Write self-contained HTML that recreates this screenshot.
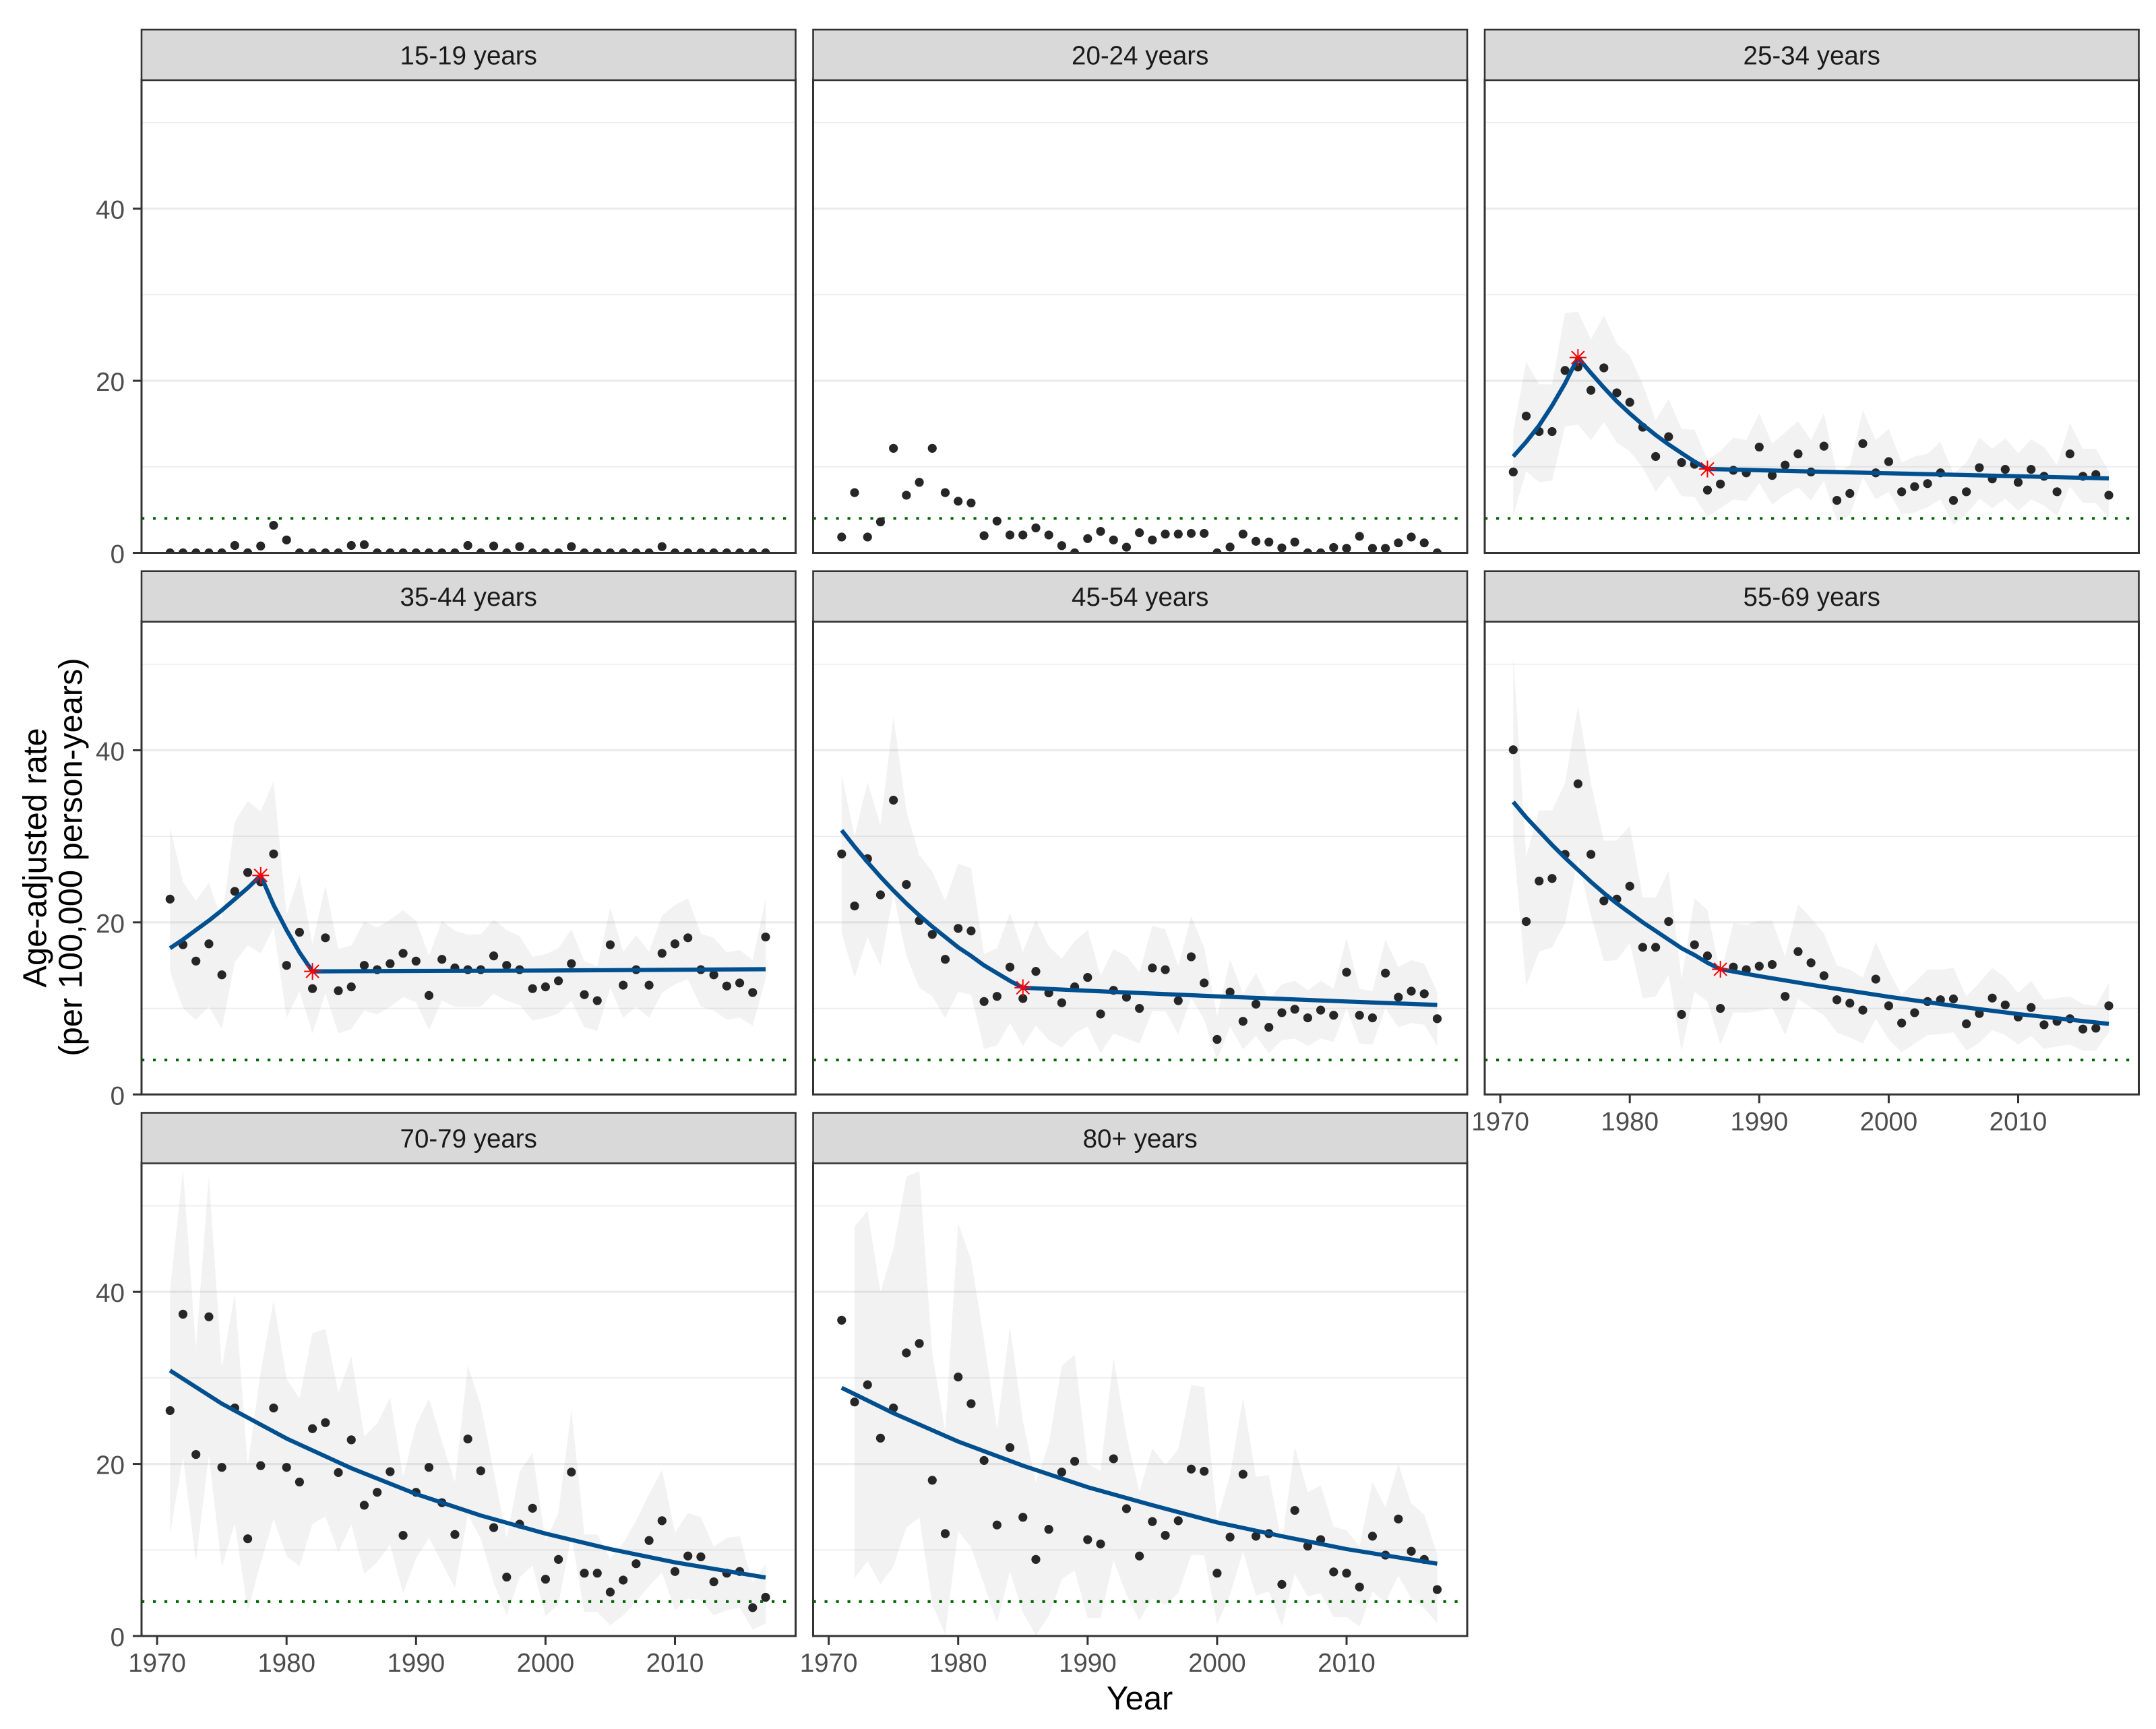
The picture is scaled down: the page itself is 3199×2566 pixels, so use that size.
<!DOCTYPE html>
<html lang="en">
<head>
<meta charset="utf-8">
<title>Age-adjusted rate by age group, 1971-2017</title>
<style>
html,body{margin:0;padding:0;background:#fff;}
svg{display:block;}
text{font-family:"Liberation Sans",Arial,sans-serif;}
.strip-bg{fill:#d9d9d9;stroke:#333;stroke-width:2.6;}
.strip-label{font-size:38.5px;fill:#1a1a1a;text-anchor:middle;}
.axis-title{font-size:48.8px;fill:#000;text-anchor:middle;}
</style>
</head>
<body>
<svg id="chart" xmlns="http://www.w3.org/2000/svg" width="3199" height="2566" viewBox="0 0 3199 2566">
  <rect width="3199" height="2566" fill="#fff"/>
  <defs id="clips"></defs>
  <g id="plots"></g>

  <g>
    <g><rect class="strip-bg" x="210" y="44" width="970.5" height="75"/><text class="strip-label" x="695.2" y="95.5">15-19 years</text></g>
    <g><rect class="strip-bg" x="1206.5" y="44" width="970.5" height="75"/><text class="strip-label" x="1691.7" y="95.5">20-24 years</text></g>
    <g><rect class="strip-bg" x="2203" y="44" width="970.5" height="75"/><text class="strip-label" x="2688.2" y="95.5">25-34 years</text></g>
    <g><rect class="strip-bg" x="210" y="847.7" width="970.5" height="75"/><text class="strip-label" x="695.2" y="899.2">35-44 years</text></g>
    <g><rect class="strip-bg" x="1206.5" y="847.7" width="970.5" height="75"/><text class="strip-label" x="1691.7" y="899.2">45-54 years</text></g>
    <g><rect class="strip-bg" x="2203" y="847.7" width="970.5" height="75"/><text class="strip-label" x="2688.2" y="899.2">55-69 years</text></g>
    <g><rect class="strip-bg" x="210" y="1651.5" width="970.5" height="75"/><text class="strip-label" x="695.2" y="1703">70-79 years</text></g>
    <g><rect class="strip-bg" x="1206.5" y="1651.5" width="970.5" height="75"/><text class="strip-label" x="1691.7" y="1703">80+ years</text></g>
  </g>

  <text class="axis-title" x="1691" y="2537">Year</text>
  <g>
    <text class="axis-title" transform="translate(68.5,1273) rotate(-90)">Age-adjusted rate</text>
    <text class="axis-title" transform="translate(121.5,1272) rotate(-90)">(per 100,000 person-years)</text>
  </g>
</svg>

<script>
// ---- shared axis data ----
const years = [1971,1972,1973,1974,1975,1976,1977,1978,1979,1980,1981,1982,1983,1984,1985,1986,1987,1988,1989,1990,1991,1992,1993,1994,1995,1996,1997,1998,1999,2000,2001,2002,2003,2004,2005,2006,2007,2008,2009,2010,2011,2012,2013,2014,2015,2016,2017];
const xTickLabels = [1970,1980,1990,2000,2010];
const yTickLabels = [0,20,40];
const gridMajor = [20,40];
const gridMinor = [10,30,50];
const referenceRate = [4];

// ---- 15-19 years ----
const rate1519 = [0,0,0,0,0,0.86,0,0.8,3.2,1.5,0,0,0,0,0.86,0.95,0,0,0,0,0,0,0,0.86,0,0.8,0,0.73,0,0,0,0.73,0,0,0,0,0,0,0.73,0,0,0,0,0,0,0,0];

// ---- 20-24 years ----
const rate2024 = [1.84,7.0,1.84,3.6,12.15,6.7,8.2,12.15,7.0,6.0,5.8,2.0,3.7,2.08,2.08,2.9,2.08,0.84,0,1.66,2.5,1.5,0.66,2.34,1.5,2.18,2.18,2.26,2.26,0,0.68,2.18,1.34,1.26,0.58,1.26,0,0,0.63,0.53,1.92,0.53,0.53,1.16,1.84,1.16,0];

// ---- 25-34 years ----
const rate2534 = [9.4,15.9,14.1,14.1,21.2,21.6,18.9,21.5,18.6,17.5,14.6,11.2,13.5,10.5,10.3,7.3,8.0,9.6,9.3,12.3,9.0,10.2,11.5,9.4,12.4,6.1,6.9,12.7,9.3,10.6,7.1,7.7,8.05,9.3,6.1,7.1,9.9,8.6,9.7,8.2,9.7,8.9,7.1,11.5,8.9,9.1,6.7];
const upper2534 = [14.1,22.2,19.6,19.6,27.9,28,24.8,27.6,24.3,22.9,19.6,15.4,17.9,14.4,14.3,10.8,11.8,13.4,13.1,16.2,12.7,14,15.3,13.1,16.2,9.2,10.2,16.6,13.1,14.4,10.5,11.2,11.5,12.9,9.2,10.5,13.4,12.1,13.3,11.6,13.2,12.3,10.2,15.1,12.1,12.1,9.5];
const lower2534 = [4.35,9.5,8.2,8.4,14.7,14.9,13.1,15.2,12.8,11.8,9.9,7.1,9,6.6,6.5,4.2,5.2,6.2,6,8.1,5.6,6.75,7.6,6.1,8.4,3.7,4.35,8.8,6.2,7.1,4.5,4.7,5.3,6.2,3.25,4.5,6.3,5.2,6.3,4.9,6.2,5.5,4.3,7.7,5.8,5.8,4];
const fitYears2534 = [1971,1972,1973,1974,1975,1976,1977,1978,1979,1980,1981,1982,1983,1984,1985,1986,1990,2000,2010,2017];
const fit2534 = [11.2,12.9,14.8,17.1,19.7,22.7,20.9,19.2,17.6,16.2,14.9,13.7,12.6,11.6,10.6,9.75,9.6,9.25,8.9,8.65];
const joinYears2534 = [1976,1986];
const joinValues2534 = [22.7,9.75];

// ---- 35-44 years ----
const rate3544 = [22.7,17.4,15.5,17.5,13.9,23.6,25.8,24.7,27.95,15.0,18.85,12.3,18.2,12.05,12.5,15,14.5,15.2,16.4,15.5,11.5,15.7,14.7,14.5,14.5,16.1,15,14.5,12.3,12.5,13.2,15.2,11.6,10.9,17.4,12.7,14.5,12.7,16.4,17.5,18.2,14.5,13.9,12.6,12.95,11.85,18.3];
const upper3544 = [31,24.7,22.5,24.6,20.2,31.7,34.1,32.9,36.4,20.9,25.5,17.5,24.3,16.9,17.3,20.1,19.4,20.3,21.4,20.2,16.1,20.2,19,18.6,18.6,20.3,19.1,18.4,16,16.3,17,19.2,15.5,14.9,21.7,16.6,18.5,16.6,20.8,22,22.8,18.7,18.2,16.5,16.8,15.6,22.7];
const lower3544 = [14.3,10,8.7,10.2,7.6,15.4,17.3,16.4,19.4,8.9,12,7.1,11.8,7.1,7.6,9.75,9.3,10.2,11.3,10.7,7.5,10.9,10.2,10.2,10.2,11.7,10.9,10.4,8.6,8.9,9.4,10.9,7.8,7.4,12.4,8.9,10.2,8.9,11.8,12.8,13.4,10.2,9.75,8.7,8.9,8,13.4];
const fitYears3544 = [1971,1972,1973,1974,1975,1976,1977,1978,1979,1980,1981,1982,1990,2000,2017];
const fit3544 = [17,18,19.1,20.2,21.4,22.7,24,25.45,22,19.1,16.5,14.3,14.35,14.4,14.55];
const joinYears3544 = [1978,1982];
const joinValues3544 = [25.45,14.3];

// ---- 45-54 years ----
const rate4554 = [27.95,21.9,27.4,23.2,34.2,24.4,20.2,18.6,15.7,19.3,19.0,10.8,11.4,14.8,11.15,14.3,11.8,10.65,12.5,13.6,9.35,12.1,11.3,10,14.7,14.5,10.9,16,12.95,6.4,11.9,8.5,10.5,7.8,9.5,9.9,8.9,9.8,9.2,14.2,9.2,8.9,14.1,11.3,12,11.7,8.8];
const upper4554 = [37.2,30,36.3,31.3,44,32.9,27.8,25.9,22.5,26.8,26.3,16.3,17,21.1,16.6,20.3,17.2,15.8,17.8,19.1,13.8,16.9,16.1,14.2,19.6,19.2,14.9,20.7,17.1,9.1,15.7,11.7,14.1,11,12.8,13.2,12.1,13.2,12.3,18.2,12.3,12,18,14.8,15.6,15.2,11.9];
const lower4554 = [18.8,13.6,18.3,14.9,23.3,16.1,12.4,11.4,8.9,11.9,11.6,5.3,5.7,8.3,5.65,8,6.3,5.45,7.1,7.9,4.8,7.1,6.5,5.9,9.7,9.7,7,11.2,8.7,4,7.9,5.25,6.8,4.8,6.3,6.5,5.65,6.5,6.1,10,5.9,5.8,10,7.8,8.3,8.1,5.65];
const fitYears4554 = [1971,1972,1973,1974,1975,1976,1977,1978,1979,1980,1981,1982,1983,1984,1985,1990,2000,2010,2017];
const fit4554 = [30.7,28.8,27,25.3,23.7,22.2,20.8,19.5,18.3,17.1,16.1,15,14.1,13.2,12.4,12.05,11.4,10.8,10.4];
const joinYears4554 = [1985];
const joinValues4554 = [12.4];

// ---- 55-69 years ----
const rate5569 = [40.06,20.1,24.8,25.1,27.9,36.1,27.9,22.5,22.7,24.2,17.1,17.1,20.1,9.3,17.4,16.1,10,14.8,14.5,14.9,15.1,11.4,16.6,15.3,13.8,11,10.6,9.8,13.4,10.3,8.3,9.5,10.8,11,11.1,8.2,9.4,11.2,10.4,9,10.1,8.1,8.5,8.8,7.6,7.7,10.3];
const upper5569 = [51,27.7,33,33,36.2,45.2,36.1,29.5,29.5,31.2,22.9,22.9,26,13.4,22.8,21.4,13.9,19.9,19.7,20.2,20.2,16,22.1,20.5,18.7,15,14.5,13.6,17.7,14.4,11.6,13,14.5,14.5,14.7,11.4,13,14.7,13.6,11.8,13.2,11,11.2,11.4,10.5,10.3,12.9];
const lower5569 = [29.6,12.6,16.6,17.1,19.9,27.3,20.8,15.5,15.6,17.6,11.2,11.4,13.9,5.1,11.9,10.8,5.8,9.5,9.5,9.7,10.1,6.9,11.1,10.1,9.2,7.2,6.6,5.9,8.8,6.4,4.9,5.9,6.9,7,7.2,5.1,6,7.5,6.9,5.8,6.8,5.3,5.6,5.8,5.1,5.1,7.2];
const fitYears5569 = [1971,1972,1973,1974,1975,1976,1977,1978,1979,1980,1981,1982,1983,1984,1985,1986,1987,1990,1995,2000,2005,2010,2017];
const fit5569 = [34,32.2,30.6,29,27.5,26.1,24.7,23.4,22.2,21.1,20,19,18,17,16.2,15.3,14.55,13.75,12.5,11.35,10.3,9.35,8.2];
const joinYears5569 = [1987];
const joinValues5569 = [14.55];

// ---- 70-79 years ----
const rate7079 = [26.2,37.4,21.1,37.1,19.6,26.5,11.3,19.8,26.5,19.6,17.9,24.1,24.8,19,22.8,15.2,16.7,19.1,11.7,16.7,19.6,15.5,11.8,22.9,19.2,12.6,6.85,13,14.85,6.6,8.9,19.05,7.3,7.3,5.1,6.5,8.4,11.1,13.4,7.5,9.3,9.2,6.3,7.3,7.5,3.3,4.5];
const upper7079 = [40.2,54.2,33.5,53.5,31.2,39.8,19.8,30.7,39,29.9,27.6,35.2,35.7,28.3,32.5,23.2,24.7,27.7,18.5,24.5,27.6,22.6,17.9,31.4,26.8,19.1,11.4,19.1,21.3,11,14.3,26.3,11.8,11.8,9,10.8,13.4,16.5,19.3,12,14.3,13.8,10.4,11.4,11.6,6.2,8.3];
const lower7079 = [11.8,20.8,8.6,21,8,13.1,2.9,8.5,13.6,9.3,8.1,13,13.9,9.7,13,7.2,8.6,10.6,5,9,11.4,8.5,5.6,14.1,11.3,6.2,2.4,6.8,8.2,2.3,3.7,11.7,2.8,2.8,1.25,2.4,4,5.8,7.4,3,4.35,4.2,2.4,3,3.3,0.75,1.45];
const fitYears7079 = [1971,1975,1980,1985,1990,1995,2000,2005,2010,2017];
const fit7079 = [30.85,27,22.95,19.5,16.5,14,11.9,10.1,8.56,6.8];

// ---- 80+ years ----
const rate80 = [36.7,27.2,29.2,23,26.5,32.9,34,18.1,11.9,30.1,27,20.4,12.9,21.9,13.8,8.9,12.4,19.05,20.3,11.2,10.7,20.6,14.8,9.3,13.3,11.7,13.4,19.4,19.15,7.3,11.5,18.8,11.6,11.9,6,14.6,10.45,11.2,7.45,7.3,5.7,11.6,9.4,13.6,9.85,8.9,5.4];
const upper80 = [null,47.6,49.4,40,45,53.4,54,32.8,23.8,48,43.7,34.4,24,36,24.9,17.8,22.4,31.4,32.7,20,19.2,32.3,23.3,16.8,21.8,19.9,21.7,29.2,28.9,13.5,18.7,27.7,18.5,18.7,10.8,22,16.7,17.5,12.7,12.3,10.4,17.9,15,20,15.4,14.1,9.5];
const lower80 = [null,6.75,8.7,6,8.1,12.6,13.8,3.65,0.2,12.2,10.3,6,1.5,7.5,2.7,0.1,2.3,6.6,7.6,2.1,2.1,8.8,4.8,1.8,4.35,3.6,5,9.4,9.4,1.35,4.8,9.8,4.7,5.2,1.2,7.2,4.6,5,2.2,2.2,1.1,5.2,3.9,7,4.35,3.2,1.45];
const fitYears80 = [1971,1975,1980,1985,1990,1995,2000,2005,2010,2017];
const fit80 = [28.85,25.9,22.6,19.8,17.3,15.2,13.2,11.6,10.1,8.4];

// ---- layout ----
const SVGNS = 'http://www.w3.org/2000/svg';
const PANEL_W = 970.5, PANEL_H = 702.5;
const COL_X = col => 210 + col * 996.5;
const ROW_BOTTOM = row => 820.5 + row * 803.75;
const PX_PER_YEAR = 19.21, PX_PER_UNIT = 12.77, YEAR_ORIGIN = 1970, X_OFFSET = 23.1;

const panels = [
  {key:'15-19', col:0, row:0, rates:rate1519},
  {key:'20-24', col:1, row:0, rates:rate2024},
  {key:'25-34', col:2, row:0, rates:rate2534, upper:upper2534, lower:lower2534, fitX:fitYears2534, fit:fit2534, joinX:joinYears2534, joinY:joinValues2534},
  {key:'35-44', col:0, row:1, rates:rate3544, upper:upper3544, lower:lower3544, fitX:fitYears3544, fit:fit3544, joinX:joinYears3544, joinY:joinValues3544},
  {key:'45-54', col:1, row:1, rates:rate4554, upper:upper4554, lower:lower4554, fitX:fitYears4554, fit:fit4554, joinX:joinYears4554, joinY:joinValues4554},
  {key:'55-69', col:2, row:1, rates:rate5569, upper:upper5569, lower:lower5569, fitX:fitYears5569, fit:fit5569, joinX:joinYears5569, joinY:joinValues5569, xAxis:true},
  {key:'70-79', col:0, row:2, rates:rate7079, upper:upper7079, lower:lower7079, fitX:fitYears7079, fit:fit7079, xAxis:true},
  {key:'80-plus', col:1, row:2, rates:rate80, upper:upper80, lower:lower80, fitX:fitYears80, fit:fit80, xAxis:true}
];

function mk(tag, attrs, parent) {
  const e = document.createElementNS(SVGNS, tag);
  for (const k in attrs) e.setAttribute(k, attrs[k]);
  if (parent) parent.appendChild(e);
  return e;
}

const plots = document.getElementById('plots');
const clips = document.getElementById('clips');

panels.forEach((p, idx) => {
  const left = COL_X(p.col), bottom = ROW_BOTTOM(p.row), top = bottom - PANEL_H, right = left + PANEL_W;
  const xScale = yr => left + X_OFFSET + (yr - YEAR_ORIGIN) * PX_PER_YEAR;
  const yScale = v => bottom - v * PX_PER_UNIT;

  const cp = mk('clipPath', {id:'clip' + idx}, clips);
  mk('rect', {x:left, y:top, width:PANEL_W, height:PANEL_H}, cp);

  const g = mk('g', {}, plots);
  
  
  const inner = mk('g', {'clip-path':'url(#clip' + idx + ')'}, g);

  gridMinor.forEach(v => {
    const l = mk('line', {x1:left, x2:right, y1:yScale(v), y2:yScale(v), stroke:'#ededed', 'stroke-width':1.8}, inner);
    
    
  });
  gridMajor.forEach(v => {
    const l = mk('line', {x1:left, x2:right, y1:yScale(v), y2:yScale(v), stroke:'#ebebeb', 'stroke-width':3.2}, inner);
    
    
  });

  if (p.upper) {
    const up = [], lo = [];
    years.forEach((yr, i) => {
      if (p.upper[i] === null) return;
      up.push(xScale(yr).toFixed(1) + ',' + yScale(p.upper[i]).toFixed(1));
      lo.unshift(xScale(yr).toFixed(1) + ',' + yScale(p.lower[i]).toFixed(1));
    });
    const band = mk('polygon', {points:up.concat(lo).join(' '), fill:'#808080', 'fill-opacity':0.105}, inner);
    
    
  }

  referenceRate.forEach(v => {
    const d = mk('line', {x1:left, x2:right, y1:yScale(v), y2:yScale(v), stroke:'#006400', 'stroke-width':4, 'stroke-dasharray':'4.2 12.8'}, inner);
    
    
  });

  years.forEach((yr, i) => {
    const c = mk('circle', {cx:xScale(yr), cy:yScale(p.rates[i]), r:6.6, fill:'#262626'}, inner);
    
    
  });

  if (p.fit) {
    const pts = p.fitX.map((yr, i) => xScale(yr).toFixed(1) + ',' + yScale(p.fit[i]).toFixed(1)).join(' ');
    const fl = mk('polyline', {points:pts, fill:'none', stroke:'#004f8f', 'stroke-width':6.2, 'stroke-linejoin':'round'}, inner);
    
    
  }

  if (p.joinX) {
    p.joinX.forEach((yr, i) => {
      const cx = xScale(yr), cy = yScale(p.joinY[i]);
      const star = mk('g', {stroke:'#ff0000', 'stroke-width':2}, inner);
      
      
      mk('line', {x1:cx, x2:cx, y1:cy - 12.5, y2:cy + 12.5}, star);
      mk('line', {x1:cx - 12.5, x2:cx + 12.5, y1:cy, y2:cy}, star);
      mk('line', {x1:cx - 9.5, x2:cx + 9.5, y1:cy - 9.5, y2:cy + 9.5}, star);
      mk('line', {x1:cx - 9.5, x2:cx + 9.5, y1:cy + 9.5, y2:cy - 9.5}, star);
    });
  }

  const border = mk('rect', {x:left, y:top, width:PANEL_W, height:PANEL_H, fill:'none', stroke:'#333', 'stroke-width':3}, g);
  
  

  if (p.col === 0) {
    const ya = mk('g', {}, g);
    
    
    yTickLabels.forEach(v => {
      const y = yScale(v);
      const t = mk('line', {x1:left - 13, x2:left, y1:y, y2:y, stroke:'#333', 'stroke-width':3}, ya);
      
      
      const tx = mk('text', {x:185, y:y + 15, 'font-size':38.5, fill:'#4d4d4d', 'text-anchor':'end'}, ya);
      
      
      tx.textContent = String(v);
    });
  }

  if (p.xAxis) {
    const xa = mk('g', {}, g);
    
    
    xTickLabels.forEach(yr => {
      const x = xScale(yr);
      const t = mk('line', {x1:x, x2:x, y1:bottom, y2:bottom + 13, stroke:'#333', 'stroke-width':3}, xa);
      
      
      const tx = mk('text', {x:x, y:bottom + 53, 'font-size':38.5, fill:'#4d4d4d', 'text-anchor':'middle'}, xa);
      
      
      tx.textContent = String(yr);
    });
  }
});
</script>
</body>
</html>
